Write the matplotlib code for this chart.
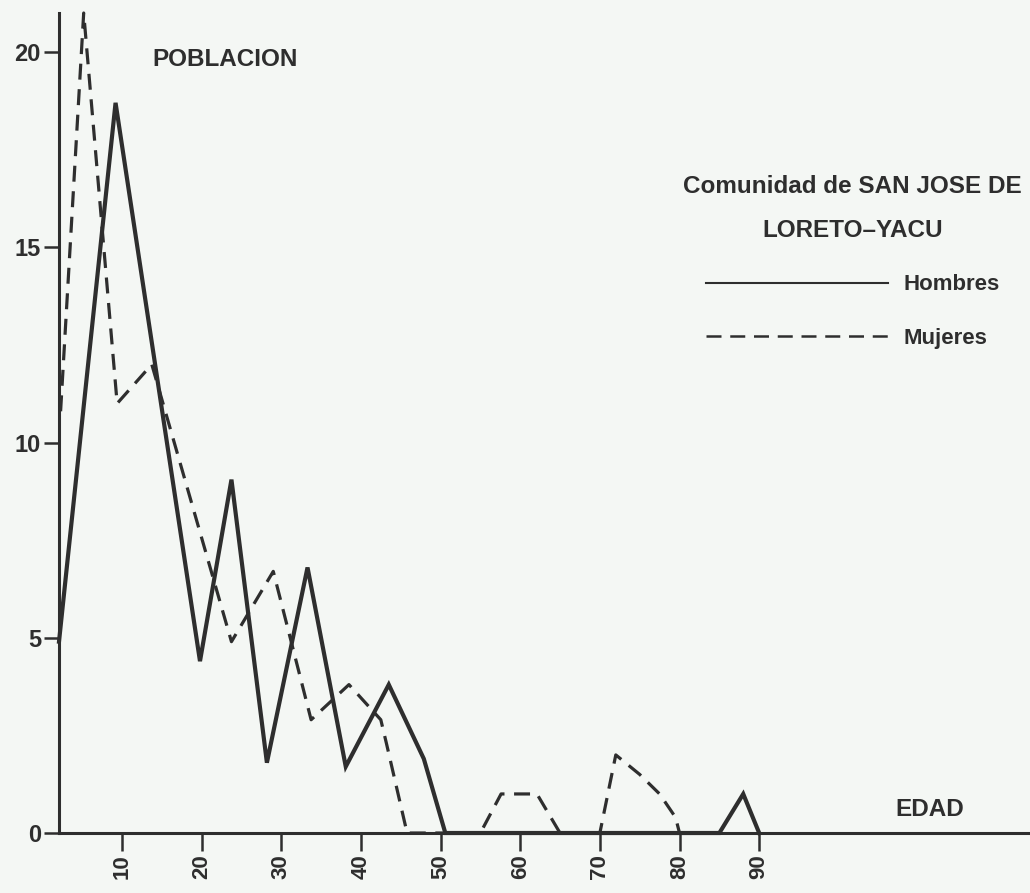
import matplotlib
matplotlib.use("Agg")
import matplotlib.pyplot as plt
from matplotlib.lines import Line2D

# age (years) and population
hombres_edad = [2.1, 9.2, 19.8, 23.75, 28.2, 33.3, 38.1, 43.5, 47.9, 50.6, 85.0, 88.0, 90.0]
hombres_pob = [4.9, 18.7, 4.4, 9.05, 1.8, 6.8, 1.7, 3.8, 1.9, 0.0, 0.0, 1.0, 0.0]

mujeres_edad = [2.3, 5.2, 9.4, 13.75, 23.75, 29.0, 33.75, 38.5, 42.5, 43.2, 45.8,
                55.0, 57.6, 62.1, 65.0, 70.0, 72.0, 75.0, 77.5, 79.5, 80.0]
mujeres_pob = [10.8, 21.0, 11.0, 12.0, 4.9, 6.7, 2.9, 3.8, 2.9, 2.3, 0.0,
               0.0, 1.0, 1.0, 0.0, 0.0, 2.0, 1.5, 1.0, 0.4, 0.0]

x_ticks = [10, 20, 30, 40, 50, 60, 70, 80, 90]
y_ticks = [0, 5, 10, 15, 20]

ink = "#2e2e2e"
paper = "#f4f7f4"
font = "Liberation Sans"

fig = plt.figure(figsize=(10.30, 8.93), dpi=100, facecolor=paper)
ax = fig.add_axes([59 / 1030, 60 / 893, 1 - 59 / 1030, 820 / 893])
ax.set_facecolor(paper)

ax.plot(hombres_edad, hombres_pob, color=ink, lw=3.0, solid_joinstyle="miter",
        clip_on=False, zorder=3)
ax.plot(mujeres_edad, mujeres_pob, color=ink, lw=2.3, dashes=(5, 3),
        clip_on=False, zorder=3)

ax.set_xlim(2.1, 124.0)
ax.set_ylim(0, 21.0)

for side in ("top", "right"):
    ax.spines[side].set_visible(False)
for side in ("left", "bottom"):
    ax.spines[side].set_linewidth(2.2)
    ax.spines[side].set_color(ink)

ax.set_xticks(x_ticks)
ax.set_yticks(y_ticks)
ax.set_xticklabels([str(v) for v in x_ticks], rotation=90, fontsize=16,
                   family=font, weight="bold", color=ink)
ax.set_yticklabels([str(v) for v in y_ticks], fontsize=17, family=font,
                   weight="bold", color=ink)
ax.tick_params(axis="x", direction="out", length=13, width=1.8, color=ink, pad=2)
ax.tick_params(axis="y", direction="out", length=11, width=1.8, color=ink, pad=2)

fig.text(152 / 1030, 1 - 59 / 893, "POBLACION", fontsize=17.5, weight="bold",
         family=font, color=ink, va="center", ha="left")
fig.text(895 / 1030, 1 - 809 / 893, "EDAD", fontsize=17.5, weight="bold",
         family=font, color=ink, va="center", ha="left")

handles = [Line2D([], [], color=ink, lw=1.5),
           Line2D([], [], color=ink, lw=1.8, dashes=(6, 3.5))]
leg = ax.legend(handles, ["Hombres", "Mujeres"],
                title="Comunidad de SAN JOSE DE\n\nLORETO\u2013YACU",
                loc="upper right", bbox_to_anchor=(1042 / 1030, 1 - 155 / 893),
                bbox_transform=fig.transFigure, frameon=False,
                handlelength=8.2, handletextpad=0.7, labelspacing=1.45,
                prop={"family": font, "size": 16, "weight": "bold"})
title = leg.get_title()
title.set_fontproperties({"family": font, "size": 17.5, "weight": "bold"})
title.set_color(ink)
title.set_multialignment("center")
title.set_linespacing(0.95)
for t in leg.get_texts():
    t.set_color(ink)

fig.savefig("out.png", dpi=100, facecolor=paper)
